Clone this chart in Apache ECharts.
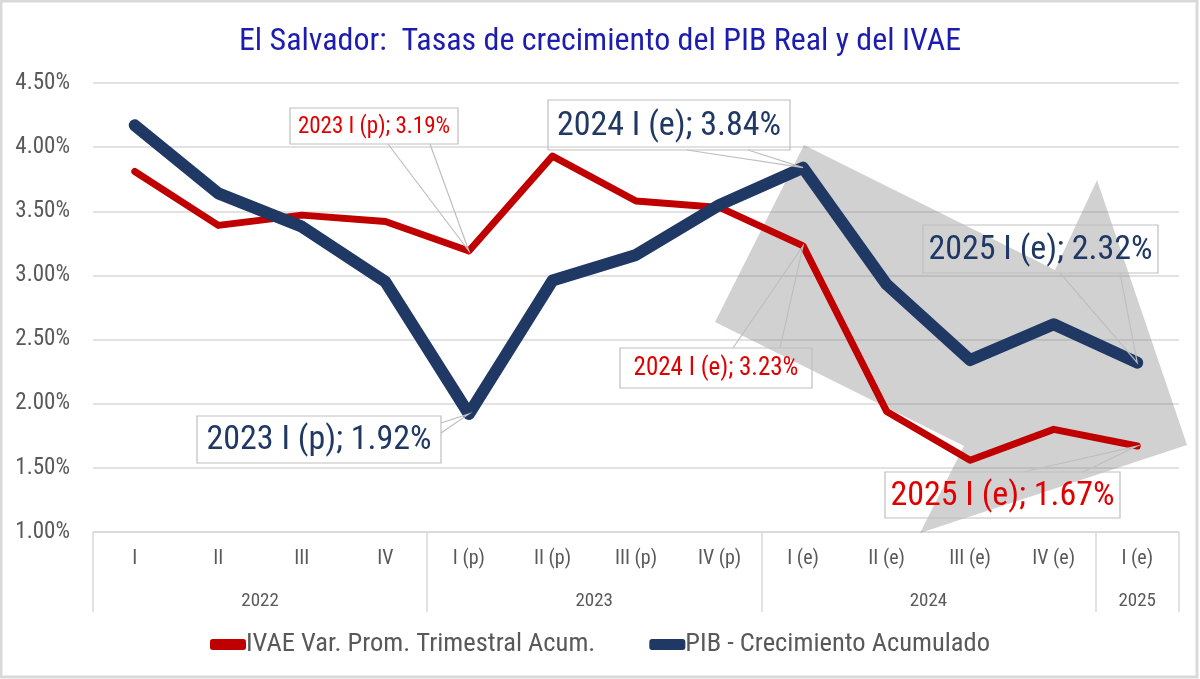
<!DOCTYPE html>
<html>
<head>
<meta charset="utf-8">
<title>El Salvador: PIB e IVAE</title>
<script src="https://cdn.jsdelivr.net/npm/echarts@6/dist/echarts.min.js"></script>
<style>
    html, body { margin: 0; padding: 0; background: #fff; }
    #main { width: 1200px; height: 679px; }
</style>
</head>
<body>
<div id="main"></div>
<script>
    // ---- data ----
    const quarters = ['I', 'II', 'III', 'IV', 'I (p)', 'II (p)', 'III (p)', 'IV (p)', 'I (e)', 'II (e)', 'III (e)', 'IV (e)', 'I (e)'];
    const years = ['2022', '2023', '2024', '2025'];
    const yearSpans = [4, 4, 4, 1];
    const ivae = [3.81, 3.39, 3.47, 3.42, 3.19, 3.93, 3.58, 3.53, 3.23, 1.94, 1.56, 1.80, 1.67];
    const pib = [4.17, 3.64, 3.38, 2.95, 1.92, 2.96, 3.16, 3.55, 3.84, 2.93, 2.34, 2.62, 2.32];
    const yTicks = [1.0, 4.5, 0.5]; // min, max, step

    const FONT = '"Liberation Sans Narrow", "Arial Narrow", "Roboto Condensed", sans-serif';
    const RED = '#c00000';
    const NAVY = '#1f3864';
    const GREY_TXT = '#595959';
    const LINE_GREY = '#d9d9d9';

    // year axis: half-quarter slots, label sits in the middle of each year block
    const yearSlots = new Array(quarters.length * 2 + 1).fill('');
    const yearEdges = [0];
    const quarterYear = [];
    let pos = 0;
    years.forEach((y, i) => {
        yearSlots[pos * 2 + yearSpans[i]] = y;
        for (let k = 0; k < yearSpans[i]; k++) quarterYear.push(y);
        pos += yearSpans[i];
        yearEdges.push(pos * 2);
    });

    const chart = echarts.init(document.getElementById('main'));

    chart.setOption({
        backgroundColor: '#fff',
        animation: false,
        title: {
            text: 'El Salvador:  Tasas de crecimiento del PIB Real y del IVAE',
            left: 'center',
            top: 21,
            textStyle: {
                color: '#1c1cb0',
                fontFamily: FONT,
                fontSize: 32,
                fontWeight: 'normal'
            }
        },
        legend: {
            data: ['IVAE Var. Prom. Trimestral Acum.', 'PIB - Crecimiento Acumulado'],
            bottom: 16,
            left: 'center',
            icon: 'roundRect',
            itemWidth: 36,
            itemHeight: 11,
            itemGap: 54,
            textStyle: {
                color: GREY_TXT,
                fontFamily: FONT,
                fontSize: 26.5,
                padding: [0, 0, 0, -5]
            }
        },
        grid: {
            left: 93,
            right: 21,
            top: 83,
            bottom: 147
        },
        xAxis: [
            {
                type: 'category',
                data: quarters,
                position: 'bottom',
                axisLine: { lineStyle: { color: LINE_GREY, width: 1.5 } },
                axisTick: { show: false },
                axisLabel: {
                    color: GREY_TXT,
                    fontFamily: FONT,
                    fontSize: 20,
                    margin: 17,
                    interval: 0
                }
            },
            {
                type: 'category',
                data: yearSlots,
                position: 'bottom',
                boundaryGap: false,
                axisLine: { show: false },
                axisTick: {
                    show: true,
                    length: 80,
                    interval: (idx) => yearEdges.indexOf(idx) >= 0,
                    lineStyle: { color: LINE_GREY, width: 1.5 }
                },
                axisLabel: {
                    color: GREY_TXT,
                    fontFamily: FONT,
                    fontSize: 19,
                    margin: 60,
                    interval: 0
                },
                splitLine: { show: false }
            }
        ],
        yAxis: {
            type: 'value',
            min: yTicks[0],
            max: yTicks[1],
            interval: yTicks[2],
            axisLine: { show: false },
            axisTick: { show: false },
            axisLabel: {
                color: GREY_TXT,
                fontFamily: FONT,
                fontSize: 23,
                margin: 23,
                formatter: (v) => v.toFixed(2) + '%'
            },
            splitLine: { lineStyle: { color: LINE_GREY, width: 1.5 } }
        },
        series: [
            {
                name: 'IVAE Var. Prom. Trimestral Acum.',
                type: 'line',
                data: ivae,
                symbol: 'none',
                color: RED,
                z: 3,
                lineStyle: { width: 7, color: RED, cap: 'round', join: 'round' }
            },
            {
                name: 'PIB - Crecimiento Acumulado',
                type: 'line',
                data: pib,
                symbol: 'none',
                color: NAVY,
                z: 4,
                lineStyle: { width: 12, color: NAVY, cap: 'round', join: 'round' }
            }
        ]
    });

    // ---- decorations: grey trend arrow, callouts, frame ----
    const callouts = [
        { s: ivae, i: 4, color: '#e00000', size: 23, box: [290, 108, 168, 36], a: [388, 144], b: [430, 144] },
        { s: pib, i: 8, color: NAVY, size: 34, box: [548, 100, 242, 50], a: [687, 150], b: [748, 150] },
        { s: pib, i: 4, color: NAVY, size: 34, box: [197, 416, 244, 47], a: [441, 423], b: [441, 433] },
        { s: ivae, i: 8, color: '#e00000', size: 25, box: [620, 348, 192, 40], a: [733, 348], b: [780, 348] },
        { s: pib, i: 12, color: NAVY, size: 34, box: [923, 225, 235, 48], a: [1060, 273], b: [1120, 273] },
        { s: ivae, i: 12, color: '#e00000', size: 34, box: [885, 472, 235, 46], a: [1023, 472], b: [1083, 472] }
    ];

    const graphics = [
        {
            type: 'polygon',
            z: 1,
            silent: true,
            shape: {
                points: [[804, 145], [1055, 270], [1097, 180], [1187, 445], [920, 533], [964, 446], [715, 322]]
            },
            style: { fill: 'rgba(128,128,128,0.36)' }
        },
        {
            type: 'rect',
            z: 20,
            silent: true,
            shape: { x: 1, y: 1, width: 1196, height: 676 },
            style: { fill: 'none', stroke: LINE_GREY, lineWidth: 3 }
        }
    ];

    callouts.forEach((c) => {
        const p = chart.convertToPixel({ xAxisIndex: 0, yAxisIndex: 0 }, [c.i, c.s[c.i]]);
        const [bx, by, bw, bh] = c.box;
        graphics.push({
            type: 'polyline',
            z: 10,
            silent: true,
            shape: { points: [c.a, p, c.b] },
            style: { stroke: '#bfbfbf', lineWidth: 1.2, fill: null }
        });
        graphics.push({
            type: 'rect',
            z: 10,
            silent: true,
            shape: { x: bx, y: by, width: bw, height: bh },
            style: { fill: 'none', stroke: '#bfbfbf', lineWidth: 1.2 }
        });
        graphics.push({
            type: 'text',
            z: 11,
            silent: true,
            x: bx + bw / 2,
            y: by + bh / 2 + 1,
            style: {
                text: quarterYear[c.i] + ' ' + quarters[c.i] + '; ' + c.s[c.i].toFixed(2) + '%',
                fill: c.color,
                font: c.size + 'px ' + FONT,
                align: 'center',
                verticalAlign: 'middle'
            }
        });
    });

    chart.setOption({ graphic: graphics });
</script>
</body>
</html>
